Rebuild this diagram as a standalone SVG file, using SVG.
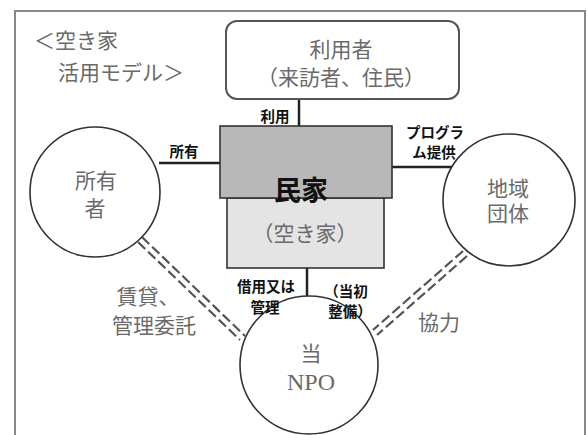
<svg xmlns="http://www.w3.org/2000/svg" width="587" height="435" viewBox="0 0 587 435">
<style>
.g{font-family:"Liberation Serif","Noto Sans CJK JP",serif;fill:#6a6a6a;font-size:21px;text-anchor:middle}
.b{font-family:"Noto Sans CJK JP",sans-serif;fill:#111;font-size:14.5px;font-weight:bold;text-anchor:middle}
.ln{stroke:#222;stroke-width:2.5;fill:none}
.dash{stroke:#555;stroke-width:2.2;stroke-dasharray:10 4;fill:none}
.circ{fill:#fff;stroke:#333;stroke-width:1.6}
</style>
<rect width="587" height="435" fill="#fff"/>
<path d="M15 435 V11 H585 V435" fill="none" stroke="#888" stroke-width="2"/>
<g id="title">
<text class="g" x="34" y="48" style="text-anchor:start">＜空き家</text>
<text class="g" x="58" y="80" style="text-anchor:start">活用モデル＞</text>
</g>
<g id="connectors">
<line class="ln" x1="299" y1="99" x2="299" y2="127"/>
<line class="ln" x1="159" y1="163" x2="221" y2="163"/>
<line class="ln" x1="391" y1="167" x2="452" y2="167"/>
<line class="ln" x1="307" y1="268" x2="307" y2="298"/>
<line class="dash" x1="142" y1="237" x2="245" y2="336"/>
<line class="dash" x1="138" y1="242" x2="240" y2="340"/>
<line class="dash" x1="467" y1="256" x2="377" y2="335"/>
<line class="dash" x1="463" y1="251" x2="373" y2="330"/>
</g>
<g id="user">
<rect x="226" y="21" width="233" height="78" rx="11" fill="#fff" stroke="#555" stroke-width="2"/>
<text class="g" x="341" y="57">利用者</text>
<text class="g" x="341" y="85">（来訪者、住民）</text>
</g>
<g id="house">
<rect x="227" y="198" width="157" height="70" fill="#e4e4e4" stroke="#333" stroke-width="1.6"/>
<rect x="220" y="126" width="172" height="72" fill="#b8b8b8" stroke="#333" stroke-width="1.6"/>
<text x="301" y="200" font-family="Noto Sans CJK JP,sans-serif" font-size="27" font-weight="bold" fill="#111" text-anchor="middle">民家</text>
<text class="g" x="305" y="241">（空き家）</text>
</g>
<g id="owner">
<circle class="circ" cx="95" cy="192" r="65"/>
<text class="g" x="96" y="188">所有</text>
<text class="g" x="95" y="216">者</text>
</g>
<g id="community">
<circle class="circ" cx="509" cy="200" r="66"/>
<text class="g" x="508" y="196">地域</text>
<text class="g" x="508" y="221">団体</text>
</g>
<g id="npo">
<circle class="circ" cx="309" cy="365" r="69"/>
<text class="g" x="311" y="361">当</text>
<text class="g" x="311" y="390" style="font-size:24px">NPO</text>
</g>
<g id="labels">
<text class="b" x="275" y="122">利用</text>
<text class="b" x="184" y="157">所有</text>
<text class="b" x="435" y="138">プログラ</text>
<text class="b" x="434" y="158">ム提供</text>
<text class="b" x="266" y="292">借用又は</text>
<text class="b" x="265" y="313">管理</text>
<text class="b" x="346" y="297">（当初</text>
<text class="b" x="350" y="317">整備）</text>
<text class="g" x="148" y="304">賃貸、</text>
<text class="g" x="154" y="333">管理委託</text>
<text class="g" x="439" y="330">協力</text>
</g>
</svg>
